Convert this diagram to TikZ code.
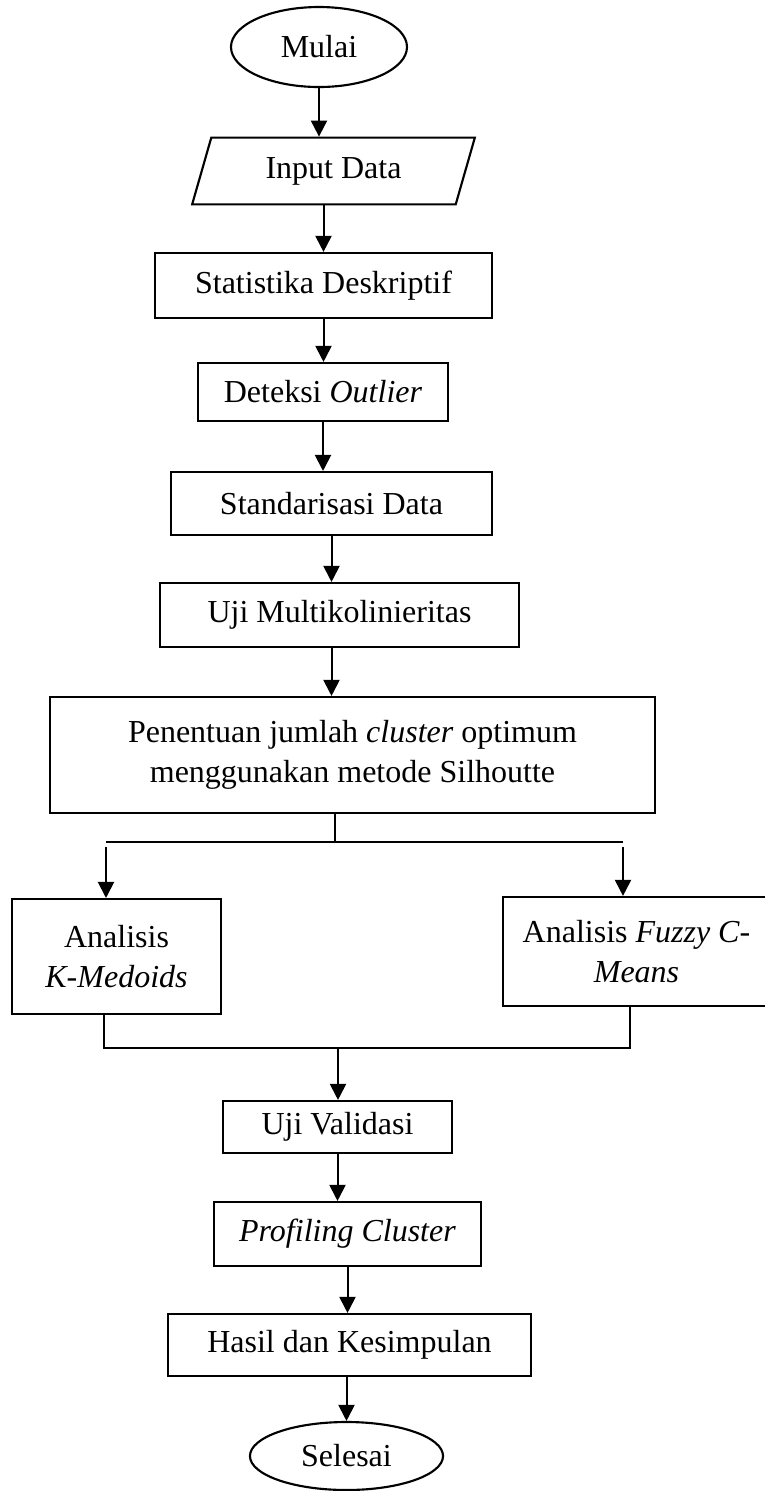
\documentclass[tikz,border=0pt]{standalone}
\usepackage{fontspec}
\setmainfont{Liberation Serif}
\usetikzlibrary{arrows.meta,shapes.geometric}

\begin{document}
\begin{tikzpicture}[x=0.375pt,y=0.375pt,yscale=-1,xscale=1,
  font=\fontsize{12}{15}\selectfont,
  box/.style={draw,line width=0.8pt,inner sep=1pt,align=center},
  terminal/.style={draw,ellipse,line width=0.8pt,inner sep=1pt},
  arr/.style={line width=0.75pt,-{Triangle[length=6pt,width=6pt]}},
  thinline/.style={line width=0.4pt}]
%set diagram left start at 0, and has height of 1491
\useasboundingbox (0,0) rectangle (765,1491);

%Shape: Ellipse [Mulai]
\node[terminal,minimum width=66pt,minimum height=30pt] (mulai) at (319,47) {Mulai};
%Shape: Parallelogram [Input Data]
\node[box,trapezium,trapezium left angle=60,trapezium right angle=120,trapezium stretches body=true,minimum width=106pt,minimum height=25pt] (input) at (333.5,171) {Input Data};
%Shape: Rectangle
\node[box,minimum width=126.4pt,minimum height=24.4pt] (stat) at (323.5,285.5) {Statistika Deskriptif};
%Shape: Rectangle
\node[box,minimum width=93.75pt,minimum height=21.75pt] (det) at (323,392) {Deteksi \textit{Outlier}};
%Shape: Rectangle
\node[box,minimum width=120.4pt,minimum height=23.6pt] (stand) at (331.5,503.5) {Standarisasi Data};
%Shape: Rectangle
\node[box,minimum width=134.6pt,minimum height=24pt] (multi) at (339.5,615) {Uji Multikolinieritas};
%Shape: Rectangle
\node[box,minimum width=226.9pt,minimum height=43.5pt] (pen) at (352.5,755) {Penentuan jumlah \textit{cluster} optimum\\menggunakan metode Silhoutte};
%Shape: Rectangle
\node[box,minimum width=78.4pt,minimum height=43.1pt] (kmed) at (116.5,956.5) {Analisis\\\textit{K-Medoids}};
%Shape: Rectangle
\node[box,minimum width=100pt,minimum height=40.9pt] (fcm) at (636.5,951.5) {Analisis \textit{Fuzzy C-}\\\textit{Means}};
%Shape: Rectangle
\node[box,minimum width=85.9pt,minimum height=19.5pt] (valid) at (337.5,1127) {Uji Validasi};
%Shape: Rectangle
\node[box,minimum width=100pt,minimum height=24pt] (prof) at (347.5,1234) {\textit{Profiling Cluster}};
%Shape: Rectangle
\node[box,minimum width=136pt,minimum height=23.25pt] (hasil) at (349.5,1345) {Hasil dan Kesimpulan};
%Shape: Ellipse [Selesai]
\node[terminal,minimum width=72.4pt,minimum height=25.5pt] (selesai) at (346.5,1456) {Selesai};

%Straight Lines
\draw[arr] (mulai.south) -- (mulai |- input.north);
\draw[arr] (stat |- input.south) -- (stat.north);
\draw[arr] (stat.south) -- (stat |- det.north);
\draw[arr] (det.south) -- (det |- stand.north);
\draw[arr] (stand.south) -- (stand |- multi.north);
\draw[arr] (stand |- multi.south) -- (stand |- pen.north);

%Branch lines
\coordinate (split) at (335,842);
\coordinate (splitL) at (106,842);
\coordinate (splitR) at (623,842);
\draw[thinline] (split |- pen.south) -- (split);
\draw[thinline] (splitL) -- (splitR);
\draw[arr] (splitL) ++(0,5) -- (splitL |- kmed.north);
\draw[arr] (splitR) ++(0,5) -- (splitR |- fcm.north);

%Join lines
\coordinate (joinL) at (104,1048);
\coordinate (joinR) at (630,1048);
\coordinate (join) at (338,1048);
\draw[thinline] (joinL |- kmed.south) -- (joinL) -- (joinR) -- (joinR |- fcm.south);
\draw[arr] (join) -- (join |- valid.north);

\draw[arr] (valid.south) -- (valid |- prof.north);
\draw[arr] (prof.south) -- (prof |- hasil.north);
\draw[arr] (selesai |- hasil.south) -- (selesai.north);

\end{tikzpicture}
\end{document}
